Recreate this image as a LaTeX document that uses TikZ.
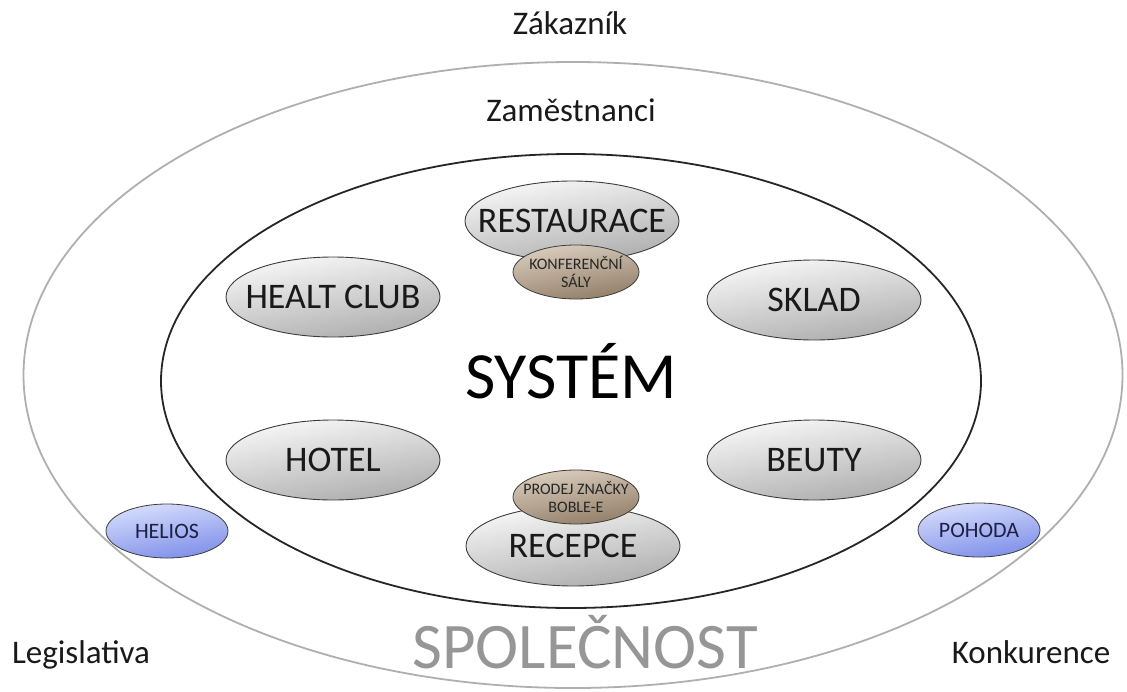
\documentclass[tikz,border=0pt]{standalone}
\usepackage{fontspec}
\setmainfont{Carlito}
\usetikzlibrary{shapes.geometric}
\definecolor{ringgray}{RGB}{175,175,175}
\definecolor{edgegray}{RGB}{60,60,60}
\definecolor{pillTop}{RGB}{248,248,248}
\definecolor{pillBot}{RGB}{172,172,172}
\definecolor{brownTop}{RGB}{218,206,190}
\definecolor{brownBot}{RGB}{145,125,103}
\definecolor{blueTop}{RGB}{215,222,252}
\definecolor{blueBot}{RGB}{125,142,232}
\definecolor{blueText}{RGB}{30,32,70}
\definecolor{socgray}{RGB}{150,150,150}
% shapes keep a fixed size; their captions are centred labels
\tikzset{
  ring/.style={ellipse, draw, inner sep=0pt},
  pill/.style={ellipse, draw=edgegray, line width=0.9pt, inner sep=0pt,
    top color=pillTop, bottom color=pillBot, shading angle=10,
    minimum width=214pt, minimum height=80pt,
    label={[text=black!90, font=\fontsize{36}{38}\selectfont]center:#1}},
  tag/.style={ellipse, draw=edgegray, line width=0.8pt, inner sep=0pt,
    top color=brownTop, bottom color=brownBot, shading angle=10,
    minimum width=126pt, minimum height=54pt,
    label={[align=center, text=black!85, font=\fontsize{16}{18}\selectfont]center:#1}},
  soft/.style={ellipse, draw=edgegray, line width=0.8pt, inner sep=0pt,
    top color=blueTop, bottom color=blueBot, shading angle=10,
    minimum width=122pt, minimum height=54pt,
    label={[text=blueText, font=\fontsize{22}{24}\selectfont]center:#1}},
  caption/.style={font=\fontsize{33}{35}\selectfont, text=black!90, anchor=base}
}
\begin{document}
\begin{tikzpicture}[x=1pt, y=-1pt]
  \useasboundingbox (0,0) rectangle (1127,691);
  % surrounding rings
  \node[ring, draw=ringgray, line width=1.8pt, minimum width=1099pt, minimum height=626pt] (spol) at (573,375) {};
  \node[ring, draw=black!85, line width=1.8pt, minimum width=820pt, minimum height=454pt] (sys) at (571,381) {};
  % outer captions
  \node[caption] (zak) at (570,34) {Zákazník};
  \node[caption] (zam) at (571,121) {Zaměstnanci};
  \node[caption] (leg) at (81,663) {Legislativa};
  \node[caption] (kon) at (1031,663) {Konkurence};
  \node[font=\fontsize{65}{67}\selectfont, text=socgray, anchor=base] (socname) at (585,668) {SPOLEČNOST};
  \node[font=\fontsize{66}{68}\selectfont, anchor=base] (sysname) at (571,398) {SYSTÉM};
  % departments
  \node[pill={RESTAURACE}] (rest) at (572,221) {};
  \node[tag={KONFERENČNÍ\\SÁLY}] (konf) at (576,272) {};
  \node[pill={HEALT CLUB}] (health) at (333,297) {};
  \node[pill={SKLAD}] (sklad) at (814,300) {};
  \node[pill={HOTEL}] (hotel) at (333,460) {};
  \node[pill={BEUTY}] (beuty) at (814,460) {};
  \node[pill={RECEPCE}] (recep) at (573,546) {};
  \node[tag={PRODEJ ZNAČKY\\BOBLE-E}] (prodej) at (576,497) {};
  % software
  \node[soft={HELIOS}] (helios) at (167,531) {};
  \node[soft={POHODA}] (pohoda) at (979,530) {};
\end{tikzpicture}
\end{document}
